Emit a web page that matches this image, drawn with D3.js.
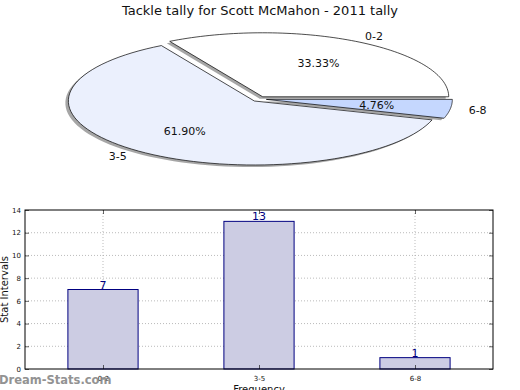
<!DOCTYPE html>
<html><head><meta charset="utf-8">
<script src="https://cdn.jsdelivr.net/npm/d3@7"></script>
<style>body{margin:0;background:#fff}svg{display:block;font-family:"DejaVu Sans",sans-serif}</style>
</head><body>
<svg id="c" width="520" height="390"></svg>
<script>
const categories = ["0-2","3-5","6-8"];
const values = [7,13,1];
const pieColors = ["#ffffff","#ebf0fd","#c5d7fe"];
const yTicks = [0,2,4,6,8,10,12,14];
const title = "Tackle tally for Scott McMahon - 2011 tally";

const svg = d3.select("#c");
svg.append("text").attr("x",260).attr("y",15).attr("text-anchor","middle")
  .attr("font-size",13).attr("fill","#111").text(title);

// ---- Pie (matplotlib-like, squashed) ----
const cx=259, cy=99, rx=186, ry=64, explode=0.04;
const total = d3.sum(values);
const pie = d3.pie().sort(null).value(d=>d)
  .startAngle(0).endAngle(2*Math.PI);
const arcs = pie(values);
// angles in math convention (CCW from east), degrees
function wedgePath(a0,a1,ox,oy){
  const n=80, pts=[[ox,oy]];
  for(let i=0;i<=n;i++){
    const t=a0+(a1-a0)*i/n;
    pts.push([ox+rx*Math.cos(t), oy-ry*Math.sin(t)]);
  }
  return "M"+pts.map(p=>p.join(",")).join("L")+"Z";
}
const gp = svg.append("g");
// shadows
arcs.forEach((a,i)=>{
  const a0=a.startAngle, a1=a.endAngle, m=(a0+a1)/2;
  const ox=cx+explode*rx*Math.cos(m), oy=cy-explode*ry*Math.sin(m);
  gp.append("path").attr("d",wedgePath(a0,a1,ox-3,oy+2))
    .attr("fill","#4d4d4d").attr("opacity",0.5);
});
arcs.forEach((a,i)=>{
  const a0=a.startAngle, a1=a.endAngle, m=(a0+a1)/2;
  const ox=cx+explode*rx*Math.cos(m), oy=cy-explode*ry*Math.sin(m);
  gp.append("path").attr("d",wedgePath(a0,a1,ox,oy))
    .attr("fill",pieColors[i]).attr("stroke","#000").attr("stroke-width",0.7)
    .attr("stroke-linejoin","miter");
  const lx=ox+1.1*rx*Math.cos(m), ly=oy-1.1*ry*Math.sin(m);
  gp.append("text").attr("x",lx).attr("y",ly).attr("dy","0.35em")
    .attr("text-anchor",Math.cos(m)>0?"start":"end")
    .attr("font-size",11).attr("fill","#111").text(categories[i]);
  const px=ox+0.6*rx*Math.cos(m), py=oy-0.6*ry*Math.sin(m);
  gp.append("text").attr("x",px).attr("y",py).attr("dy","0.35em")
    .attr("text-anchor","middle").attr("font-size",11).attr("fill","#111")
    .text((values[i]/total*100).toFixed(2)+"%");
});

// ---- Bar chart ----
const L=25,R=493,T=210,B=369;
const x = d3.scaleLinear().domain([-0.5,2.5]).range([L,R]);
const y = d3.scaleLinear().domain([0,14]).range([B,T]);
const bw = 0.45;
const gb = svg.append("g");
// grid
gb.selectAll(".gy").data(yTicks.slice(1,-1)).enter().append("line")
  .attr("x1",L).attr("x2",R).attr("y1",d=>y(d)).attr("y2",d=>y(d))
  .attr("stroke","#aaa").attr("stroke-width",0.8).attr("stroke-dasharray","1,2");
gb.selectAll(".gx").data(categories).enter().append("line")
  .attr("x1",(d,i)=>x(i)).attr("x2",(d,i)=>x(i)).attr("y1",T).attr("y2",B)
  .attr("stroke","#aaa").attr("stroke-width",0.8).attr("stroke-dasharray","1,2");
// bars
gb.selectAll(".bar").data(values).enter().append("rect")
  .attr("x",(d,i)=>x(i-bw/2)).attr("width",x(bw)-x(0))
  .attr("y",d=>y(d)).attr("height",d=>B-y(d))
  .attr("fill","#ccccE3").attr("stroke","#000080").attr("stroke-width",1);
gb.selectAll(".vl").data(values).enter().append("text")
  .attr("x",(d,i)=>x(i)).attr("y",d=>y(d)-1).attr("text-anchor","middle")
  .attr("font-size",11).attr("fill","#000080").text(d=>d);
// axes
const ax = d3.axisBottom(x).tickValues([0,1,2]).tickFormat(i=>categories[i])
  .tickSizeInner(-4).tickSizeOuter(0).tickPadding(7);
const ay = d3.axisLeft(y).tickValues(yTicks).tickSizeInner(-4).tickSizeOuter(0).tickPadding(4);
const axT = d3.axisTop(x).tickValues([0,1,2]).tickFormat("").tickSizeInner(-4).tickSizeOuter(0);
const ayR = d3.axisRight(y).tickValues(yTicks).tickFormat("").tickSizeInner(-4).tickSizeOuter(0);
[ [ax,`translate(0,${B})`],[ay,`translate(${L},0)`],[axT,`translate(0,${T})`],[ayR,`translate(${R},0)`] ]
 .forEach(([a,t])=>{
  const g=gb.append("g").attr("transform",t).call(a);
  g.select(".domain").remove();
  g.selectAll("text").attr("font-size",7).attr("fill","#111").attr("font-family","DejaVu Sans");
  g.selectAll("line").attr("stroke","#000").attr("stroke-width",0.6);
 });
gb.append("rect").attr("x",L).attr("y",T).attr("width",R-L).attr("height",B-T)
  .attr("fill","none").attr("stroke","#000").attr("stroke-width",1);
gb.append("text").attr("transform",`translate(8,${(T+B)/2}) rotate(-90)`)
  .attr("text-anchor","middle").attr("font-size",10).attr("fill","#111").text("Stat Intervals");
gb.append("text").attr("x",(L+R)/2).attr("y",393).attr("text-anchor","middle")
  .attr("font-size",10).attr("fill","#111").text("Frequency");
svg.append("text").attr("x",-1).attr("y",384).attr("font-size",11.5).attr("font-weight","bold")
  .attr("fill","#888").attr("opacity",0.9).text("Dream-Stats.com");
</script>
</body></html>
